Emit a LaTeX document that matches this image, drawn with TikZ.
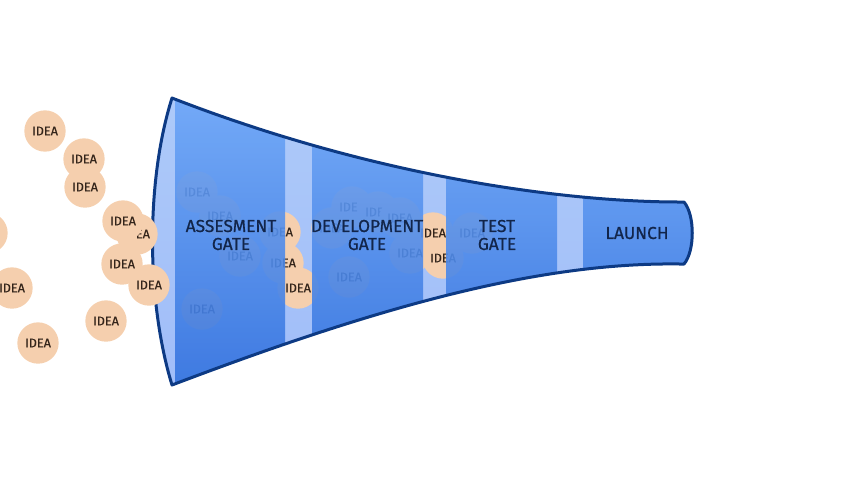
\documentclass[tikz,border=0pt]{standalone}
\usepackage{fontspec}
\setmainfont{Fira Sans}
\newfontfamily\gatefont{Fira Sans}[FakeBold=0.7]
\newfontfamily\ideafont{Fira Sans}[FakeBold=0.3]
\usetikzlibrary{positioning}

\definecolor{ideafill}{HTML}{F5CFAE}
\definecolor{ideatext}{HTML}{33241A}
\definecolor{gatelight}{HTML}{A9C7F9}
\definecolor{gatetop}{HTML}{6EA7F8}
\definecolor{gatebottom}{HTML}{3372DE}
\definecolor{funnelline}{HTML}{0D3A84}
\definecolor{labeltext}{HTML}{12254A}

% outline of the funnel (pixel units, y down)
\newcommand{\funnelpath}{(172,98) .. controls (370,175) and (560,202) .. (680,202)
  -- (684,202) .. controls (695,215) and (695,251) .. (684,264) -- (680,264)
  .. controls (540,262) and (380,306) .. (172,385)
  .. controls (146,300) and (146,180) .. cycle}

\begin{document}
\begin{tikzpicture}[x=0.75pt, y=-0.75pt,
        idea/.style={circle, fill=ideafill, text=ideatext, minimum size=31pt, inner sep=0pt, font=\ideafont\fontsize{9.5}{10}\selectfont},
        gatelabel/.style={text=labeltext, align=center, inner sep=0pt, font=\gatefont\fontsize{13}{13.5}\selectfont},
        section/.style={top color=gatetop, bottom color=gatebottom, fill opacity=0.9}
        ]
        \useasboundingbox (0,0) rectangle (852,480);

        \begin{scope}
            \path[clip] \funnelpath;
            \shade[top color=gatelight!95!white, bottom color=gatelight!95!blue] (140,95) rectangle (700,390);

            % Ideas inside the funnel
            \node [idea] (a1) at (197,192) {IDEA};
            \node [idea] (a2) at (220,216) {IDEA};
            \node [idea] (a3) at (240,256) {IDEA};
            \node [idea] (a4) at (202,309) {IDEA};

            \node [idea] (b1) at (280,232) {IDEA};
            \node [idea] (b2) at (283,263) {IDEA};
            \node [idea] (b3) at (298,288) {IDEA};

            \node [idea] (c1) at (332,228) {IDEA};
            \node [idea] (c2) at (352,207) {IDEA};
            \node [idea] (c3) at (378,212) {IDEA};
            \node [idea] (c4) at (400,218) {IDEA};
            \node [idea] (c5) at (410,253) {IDEA};
            \node [idea] (c6) at (349,277) {IDEA};

            \node [idea] (d1) at (443,258) {IDEA};
            \node [idea] (d2) at (433,233) {IDEA};
            \node [idea] (d3) at (472,233) {IDEA};

            % Sections
            \shade [section] (175,95) rectangle (285,390);
            \shade [section] (312,95) rectangle (423,390);
            \shade [section] (446,95) rectangle (557,390);
            \shade [section] (583,95) rectangle (700,390);
        \end{scope}

        % Labels
        \node [gatelabel] (assess) at (231,235) {ASSESMENT\\GATE};
        \node [gatelabel] (develop) at (367,235) {DEVELOPMENT\\GATE};
        \node [gatelabel] (test) at (497,235) {TEST\\GATE};
        \node [gatelabel] (launch) at (637,233) {LAUNCH};

        \draw [funnelline, line width=2.25pt, line join=round] \funnelpath;

        % Ideas waiting outside
        \node [idea] (o1) at (45,131) {IDEA};
        \node [idea] (o2) at (84,159) {IDEA};
        \node [idea] (o3) at (85,187) {IDEA};
        \node [idea] (o4) at (137,234) {IDEA};
        \node [idea] (o5) at (123,221) {IDEA};
        \node [idea] (o6) at (-13,233) {IDEA};
        \node [idea] (o7) at (122,264) {IDEA};
        \node [idea] (o8) at (149,285) {IDEA};
        \node [idea] (o9) at (12,288) {IDEA};
        \node [idea] (o10) at (106,321) {IDEA};
        \node [idea] (o11) at (38,343) {IDEA};

    \end{tikzpicture}
\end{document}
